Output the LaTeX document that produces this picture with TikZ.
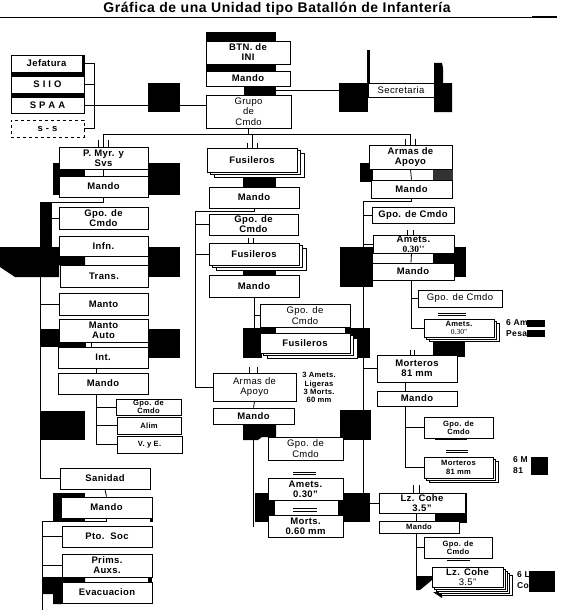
\documentclass[tikz,border=0pt]{standalone}
\usepackage{fontspec}
\setmainfont{Liberation Sans}[LetterSpace=4]
\newfontfamily\numfont{Liberation Serif}
\usetikzlibrary{shadows}

\begin{document}
\begin{tikzpicture}[x=1pt,y=-1pt,
box/.style={draw,fill=white,inner sep=0pt,align=center,line width=0.7pt,
  font=\bfseries\fontsize{9.5}{10}\selectfont},
lbox/.style={box,font=\fontsize{9.5}{10.5}\selectfont},
sbox/.style={box,font=\bfseries\fontsize{7.6}{8.2}\selectfont},
stack/.style={copy shadow={shadow xshift=7pt,shadow yshift=-5pt,fill=white,draw=black,line width=0.6pt},
  copy shadow={shadow xshift=3.5pt,shadow yshift=-2.5pt,fill=white,draw=black,line width=0.6pt}},
sstack/.style={copy shadow={shadow xshift=5pt,shadow yshift=-4pt,fill=white,draw=black,line width=0.6pt},
  copy shadow={shadow xshift=2.5pt,shadow yshift=-2pt,fill=white,draw=black,line width=0.6pt}},
lzstack/.style={copy shadow={shadow xshift=9pt,shadow yshift=-8pt,fill=white,draw=black,line width=0.6pt},
  copy shadow={shadow xshift=6.6pt,shadow yshift=-6pt,fill=white,draw=black,line width=0.6pt},
  copy shadow={shadow xshift=4.4pt,shadow yshift=-4pt,fill=white,draw=black,line width=0.6pt},
  copy shadow={shadow xshift=2.2pt,shadow yshift=-2pt,fill=white,draw=black,line width=0.6pt}},
link/.style={line width=0.8pt},
dbl/.style={double,double distance=1.3pt,line width=0.6pt},
tag/.style={anchor=west,inner sep=0pt,font=\bfseries\fontsize{8.5}{10}\selectfont}]
\useasboundingbox (0,0) rectangle (560,610);

% title
\node[font=\bfseries\fontsize{14}{15}\selectfont] (title) at (277,8.5) {Gráfica de una Unidad tipo Batallón de Infantería};
\coordinate (rl) at (0,17);
\coordinate (rr) at (532,17);
\coordinate (re) at (557,17);

% black blocks
\fill (11,55) rectangle (85,113);
\fill (148,83) rectangle (180,112);
\fill (206,32) rectangle (276,41);
\fill (206,64) rectangle (276,71);
\fill (244,86) rectangle (276,95);
\fill (339,83) rectangle (368,112);
\fill (367,50) rectangle (369.5,83);
\fill (434,63) -- (442,63) -- (443,68) -- (443,83) -- (452,83) -- (452,112) -- (434,112) -- cycle;
\fill (53,163) rectangle (85,195);
\fill (148,163) rectangle (180,195);
\fill (40,202) rectangle (52,247);
\fill (0,247) -- (85,247) -- (85,265) -- (59,265) -- (59,277) -- (15,277) -- (0,267) -- cycle;
\fill (148,247) rectangle (180,277);
\fill (40,329) rectangle (85,347);
\fill (148,329) rectangle (180,358);
\fill (40,411) rectangle (85,440);
\fill (53,493) rectangle (85,522);
\fill (150,518) rectangle (153,522);
\fill (42,577) -- (85,577) -- (85,582) -- (62,582) -- (62,604) -- (53,604) -- (53,594) -- (42,594) -- cycle;
\fill (148,577) rectangle (152,582);
\fill (243,172) rectangle (276,187);
\fill (243,265) rectangle (276,275);
\fill (243,328) rectangle (276,333);
\fill (243,333) rectangle (262,358);
\fill (345,328) rectangle (370,358);
\fill (340,247) rectangle (373,287);
\fill (243,424) -- (276,424) -- (276,437) -- (262,437) -- (258,440) -- (243,440) -- cycle;
\fill (340,410) rectangle (371,440);
\fill (255,493) rectangle (275,522);
\fill (338,493) rectangle (370,522);
\fill (360,163) rectangle (373,182);
\fill[black!80] (433,168) rectangle (453,180);
\fill (433,247) rectangle (466,277);
\fill (433,341) rectangle (465,357);
\fill (458,493) rectangle (467,523);
\fill (435,513) rectangle (467,522);
\fill (416,576) -- (432,576) -- (432,580) -- (420,590) -- (416,590) -- cycle;
\fill (433,592) -- (442,592) -- (442,598) -- cycle;
\fill (435,438) rectangle (467,440);

% staff
\node[box,minimum width=71pt,minimum height=17pt] (jef) at (46.5,63.5) {Jefatura};
\node[box,minimum width=73pt,minimum height=17pt] (siio) at (47.5,84.5) {S I I O};
\node[box,minimum width=73pt,minimum height=16pt] (spaa) at (47.5,105) {S P A A};
\node[box,dashed,line width=0.5pt,minimum width=73pt,minimum height=17pt] (ss) at (47.5,128.5) {s - s};
\coordinate (bb) at (94,128.5);

% command
\node[box,minimum width=84pt,minimum height=23pt] (btn) at (248,52.5) {BTN. de\\INI};
\node[box,minimum width=84pt,minimum height=15pt] (mdo0) at (248,78.5) {Mando};
\node[lbox,minimum width=85pt,minimum height=33pt] (grupo) at (248.5,111.5) {Grupo\\de\\Cmdo};
\node[lbox,minimum width=66pt,minimum height=14pt] (secr) at (401,90) {Secretaria};
\coordinate (hll) at (103.5,134);
\coordinate (hlr) at (410.5,134);

% P. Myr. y Svs
\node[box,minimum width=89pt,minimum height=22pt] (pmyr) at (103.5,158) {P. Myr. y\\Svs};
\node[box,minimum width=89pt,minimum height=21pt] (mdo1) at (103.5,186.5) {Mando};
\node[box,minimum width=89pt,minimum height=22pt] (gpo1) at (103.5,218) {Gpo. de\\Cmdo};
\node[box,minimum width=89pt,minimum height=20pt] (infn) at (103.5,246) {Infn.};
\node[box,minimum width=88pt,minimum height=22pt] (trans) at (104,276) {Trans.};
\node[box,minimum width=89pt,minimum height=22pt] (manto) at (103.5,304) {Manto};
\node[box,minimum width=89pt,minimum height=23pt] (mauto) at (103.5,330.5) {Manto\\Auto};
\node[box,minimum width=90pt,minimum height=21pt] (int) at (103,357.5) {Int.};
\node[box,minimum width=90pt,minimum height=21pt] (mdo2) at (103,383.5) {Mando};
\node[sbox,minimum width=65pt,minimum height=16pt] (gpo2) at (148.5,407) {Gpo. de\\Cmdo};
\node[sbox,minimum width=64pt,minimum height=17pt] (alim) at (149,425.5) {Alim};
\node[sbox,minimum width=65pt,minimum height=17pt] (vye) at (149.5,444.5) {V. y E.};
\node[box,minimum width=90pt,minimum height=21pt] (sanidad) at (105,478.5) {Sanidad};
\node[box,minimum width=91pt,minimum height=21pt] (mdo3) at (106.5,507.5) {Mando};
\node[box,minimum width=90pt,minimum height=21pt] (ptosoc) at (107,536.5) {Pto.\ \ Soc};
\node[box,minimum width=90pt,minimum height=23pt] (prims) at (107,565.5) {Prims.\\Auxs.};
\node[box,minimum width=90pt,minimum height=21pt] (evac) at (107,592.5) {Evacuacion};
\coordinate (lsp) at (40,202);
\coordinate (lsq) at (42,521);
\coordinate (lsqb) at (42,610);

% Fusileros
\node[box,stack,minimum width=90pt,minimum height=24pt] (fus1) at (252,160) {Fusileros};
\node[box,minimum width=90pt,minimum height=21pt] (mdo4) at (254,197.5) {Mando};
\node[box,minimum width=89pt,minimum height=21pt] (gpo3) at (253.5,224.5) {Gpo. de\\Cmdo};
\node[box,stack,minimum width=90pt,minimum height=22pt] (fus2) at (254,254) {Fusileros};
\node[box,minimum width=90pt,minimum height=22pt] (mdo5) at (254,286) {Mando};
\node[lbox,minimum width=90pt,minimum height=23pt] (gpo4) at (305,315.5) {Gpo. de\\Cmdo};
\node[box,stack,minimum width=90pt,minimum height=20pt] (fus3) at (305,343) {Fusileros};
\node[lbox,minimum width=83pt,minimum height=28pt] (armas2) at (254.5,387) {Armas de\\Apoyo};
\node[box,minimum width=81pt,minimum height=16pt] (mdo6) at (253.5,416) {Mando};
\node[align=center,inner sep=0pt,font=\bfseries\fontsize{7.6}{8.2}\selectfont] (nota) at (319,387.5) {3 Amets.\\Ligeras\\3 Morts.\\60 mm};
\node[lbox,minimum width=75pt,minimum height=23pt] (gpo5) at (305.5,448.5) {Gpo. de\\Cmdo};
\node[box,minimum width=75pt,minimum height=22pt] (amets2) at (305.5,489) {Amets.\\0.30''};
\node[box,minimum width=75pt,minimum height=22pt] (morts) at (305.5,526) {Morts.\\0.60 mm};
\coordinate (csp) at (195,211);
\coordinate (cspb) at (254,527);

% Armas de Apoyo
\node[box,minimum width=83pt,minimum height=24pt] (armas1) at (410.5,157) {Armas de\\Apoyo};
\node[box,minimum width=81pt,minimum height=18pt] (mdo7) at (411.5,189) {Mando};
\node[box,minimum width=82pt,minimum height=16pt] (gpo6) at (413,215) {Gpo. de Cmdo};
\node[box,minimum width=81pt,minimum height=18pt] (amets1) at (413.5,244) {Amets.\\{\numfont 0.30''}};
\node[box,minimum width=82pt,minimum height=17pt] (mdo8) at (413,271.5) {Mando};
\node[lbox,minimum width=84pt,minimum height=17pt] (gpo7) at (460,298.5) {Gpo. de Cmdo};
\node[sbox,sstack,minimum width=70pt,minimum height=18pt] (amets3) at (459,328) {Amets.\\{\mdseries\numfont 0.30''}};
\node[tag] (am6) at (506,323) {6 Am};
\node[tag] (pesa) at (506,334) {Pesa};
\node[box,minimum width=80pt,minimum height=27pt] (mort1) at (417,368.5) {Morteros\\81 mm};
\node[box,minimum width=80pt,minimum height=15pt] (mdo9) at (417,398.5) {Mando};
\node[sbox,minimum width=69pt,minimum height=21pt] (gpo8) at (458.5,427.5) {Gpo. de\\Cmdo};
\node[sbox,sstack,minimum width=69pt,minimum height=21pt] (mort2) at (458.5,467.5) {Morteros\\81 mm};
\node[tag] (m6) at (513,460) {6 M};
\node[tag] (m81) at (513,471) {81};
\node[box,minimum width=86pt,minimum height=20pt] (lz1) at (422,503) {Lz. Cohe\\3.5''};
\node[sbox,minimum width=80pt,minimum height=12pt] (mdo10) at (419,527) {Mando};
\node[sbox,minimum width=68pt,minimum height=21pt] (gpo9) at (458,547.5) {Gpo. de\\Cmdo};
\node[box,lzstack,minimum width=71pt,minimum height=20pt] (lz2) at (467.5,577) {Lz. Cohe\\{\mdseries 3.5''}};
\node[tag] (l6) at (517,575) {6 L};
\node[tag] (co) at (517,586) {Co};
\coordinate (rsp) at (363,201);

% hidden ends of the tags
\fill (527,320) rectangle (545,327);
\fill (527,330) rectangle (545,337);
\fill (531,457) rectangle (548,475);
\fill (529,571) rectangle (555,592);

% connectors
\draw[line width=0.8pt] (rl) -- (rr);
\draw[line width=2pt] (rr) -- (re);
\draw[link] (jef.east) -| (bb) -- (ss.east);
\draw[link] (siio.east) -- (siio.east -| bb);
\draw[link] (spaa.east) -- (spaa.east -| grupo.west);
\draw[link] (mdo0.south |- secr.west) -- (secr.west);
\draw[link] (grupo.south) -- (grupo.south |- hll);
\draw[link] (hll) -- (hlr);
\draw[link] (hll) -- ++(0,6);
\draw[link] (fus1.north |- hll) -- ++(0,9);
\draw[link] (hlr) -- ++(0,5);
\foreach \dx in {-5,0,5} {
  \draw[link] ([xshift=\dx pt]pmyr.north) -- ++(0,-7);
  \draw[link] ([xshift=\dx pt]fus1.north) -- ++(0,-5);
  \draw[link] ([xshift=\dx pt]armas1.north) -- ++(0,-6);
}

% P. Myr. y Svs
\draw[link] (pmyr.south) -- (mdo1.north);
\draw[link] (mdo1.south) |- (lsp) |- (sanidad.west);
\draw[link] (lsp |- gpo1.west) -- (gpo1.west);
\draw[link] (lsp |- manto.west) -- (manto.west);
\foreach \dx in {-17.5,-11.5}
  \draw[link] ([xshift=\dx pt]int.north) -- ++(0,-4);
\draw[link] ([xshift=-7pt]int.south) -- ([xshift=-7pt]mdo2.north);
\draw[link] ([xshift=-7pt]mdo2.south) |- (vye.west);
\draw[link] ([xshift=-7pt]mdo2.south |- gpo2.west) -- (gpo2.west);
\draw[link] ([xshift=-7pt]mdo2.south |- alim.west) -- (alim.west);
\draw[link] (sanidad.south) -- (mdo3.north);
\draw[link] (mdo3.south) |- (lsq) -- (lsqb);
\draw[link] (lsq |- ptosoc.west) -- (ptosoc.west);
\draw[link] (lsq |- prims.west) -- (prims.west);

% Fusileros
\draw[link] (mdo4.south) |- (csp) |- (armas2.west);
\draw[link] (csp |- gpo3.west) -- (gpo3.west);
\draw[link] (csp |- fus2.west) -- (fus2.west);
\foreach \dx in {-6,-1}
  \draw[link] ([xshift=\dx pt]fus2.north) -- ++(0,-5);
\draw[link] (mdo5.south) -- (mdo5.south |- fus3.north);
\draw[link] (mdo5.south |- gpo4.west) -- (gpo4.west);
\foreach \dx in {-5.5,2.5}
  \draw[link] ([xshift=\dx pt]armas2.north) -- ++(0,-6);
\draw[link] (armas2.south) -- (mdo6.north);
\draw[link] (mdo6.south) -- (mdo6.south |- cspb);
\draw[dbl] ([xshift=-12.5pt,yshift=4pt]amets2.north) -- ++(23,0);
\draw[line width=1.2pt] ([xshift=-12.5pt,yshift=6pt]morts.north) -- ++(24,0);
\draw[line width=0.5pt] ([xshift=-12.5pt,yshift=3pt]morts.north) -- ++(24,0);

% Armas de Apoyo
\draw[link] (armas1.south) -- (mdo7.north);
\draw[link] (mdo7.south) |- (rsp) |- (lz1.west);
\draw[link] (rsp |- gpo6.west) -- (gpo6.west);
\draw[link] (rsp |- amets1.west) -- (amets1.west);
\draw[link] (rsp |- mort1.west) -- (mort1.west);
\foreach \dx in {-6.5,-0.5}
  \draw[link] ([xshift=\dx pt]amets1.north) -- ++(0,-5);
\draw[link] ([xshift=-2pt]amets1.south) -- ([xshift=-2pt]mdo8.north);
\draw[link] ([xshift=-2pt]mdo8.south) |- (amets3.west);
\draw[link] ([xshift=-2pt]mdo8.south |- gpo7.west) -- (gpo7.west);
\draw[dbl] ([xshift=-21pt,yshift=4pt]amets3.north) -- ++(28,0);
\foreach \dx in {-7,-3}
  \draw[link] ([xshift=\dx pt]mort1.north) -- ++(0,-5);
\draw[link] ([xshift=-12pt]mort1.south) -- ([xshift=-12pt]mdo9.north);
\draw[link] ([xshift=-12pt]mdo9.south) |- (mort2.west);
\draw[link] ([xshift=-12pt]mdo9.south |- gpo8.west) -- (gpo8.west);
\draw[dbl] ([xshift=-12.5pt,yshift=5pt]mort2.north) -- ++(22,0);
\foreach \dx in {-9,-3}
  \draw[link] ([xshift=\dx pt]lz1.north) -- ++(0,-8);
\draw[link] ([xshift=-3pt]mdo10.north) -- ++(0,-8);
\draw[link] ([xshift=-3pt]mdo10.south) |- (lz2.west);
\draw[link] ([xshift=-3pt]mdo10.south |- gpo9.west) -- (gpo9.west);
\draw[dbl] ([xshift=-20.5pt,yshift=5.5pt]lz2.north) -- ++(23,0);
\end{tikzpicture}
\end{document}
